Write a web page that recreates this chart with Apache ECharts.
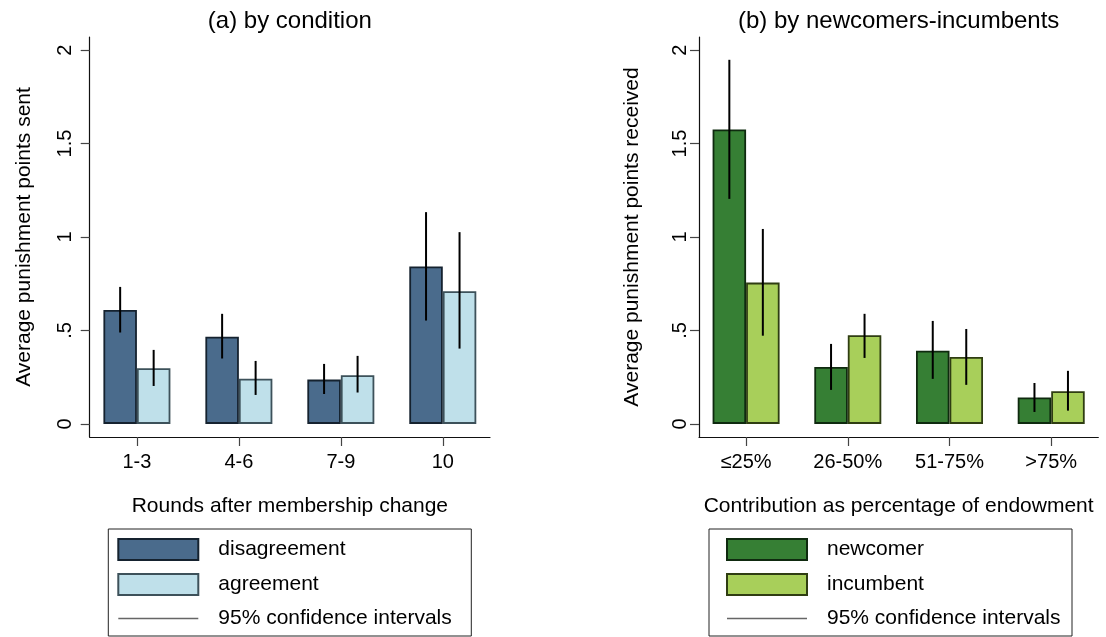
<!DOCTYPE html>
<html>
<head>
<meta charset="utf-8">
<script src="https://cdn.jsdelivr.net/npm/echarts@6/dist/echarts.min.js"></script>
<style>
  html, body { margin: 0; padding: 0; background: #ffffff; }
  #chart { width: 1106px; height: 637px; }
</style>
</head>
<body>
<div id="chart"></div>
<script>
// ---- Panel (a): punishment sent, by condition ----
const roundCategories = ['1-3', '4-6', '7-9', '10'];
const disagreement     = [0.610, 0.467, 0.237, 0.842];
const disagreementLow  = [0.489, 0.350, 0.160, 0.553];
const disagreementHigh = [0.733, 0.589, 0.321, 1.133];
const agreement        = [0.298, 0.242, 0.260, 0.710];
const agreementLow     = [0.203, 0.155, 0.168, 0.403];
const agreementHigh    = [0.396, 0.337, 0.364, 1.026];

// ---- Panel (b): punishment received, by newcomers-incumbents ----
const contributionCategories = ['≤25%', '26-50%', '51-75%', '>75%'];
const newcomer         = [1.575, 0.305, 0.392, 0.141];
const newcomerLow      = [1.204, 0.182, 0.241, 0.064];
const newcomerHigh     = [1.948, 0.428, 0.551, 0.219];
const incumbent        = [0.756, 0.474, 0.358, 0.175];
const incumbentLow     = [0.472, 0.353, 0.209, 0.071];
const incumbentHigh    = [1.043, 0.589, 0.508, 0.284];

// ---- Shared y-axis ticks ----
const yTickValues = [0, 0.5, 1, 1.5, 2];
const yTickLabels = ['0', '.5', '1', '1.5', '2'];

// ---- Style / layout constants ----
const FONT = '"Liberation Sans", Arial, Helvetica, sans-serif';
const BAR_W = 33.5;
const CAT_PAD = 0.463;          // empty space left/right of the outer groups, in category units
const Y_MIN = -0.07, Y_MAX = 2.07;
const AXIS_COLOR = '#111';
const TICK_COLOR = '#444';
const LEGEND_TOP = 529, LEGEND_W = 363, LEGEND_H = 107, LEGEND_PAD_TOP = 9;
// thin horizontal stroke inside a full 80x21 icon frame (the two moves pin the frame size)
const CI_ICON = 'path://M0 0M80 21M0 9.85H80V11.15H0Z';

const panels = [
  {
    title: '(a) by condition',
    xName: 'Rounds after membership change',
    yName: 'Average punishment points sent',
    categories: roundCategories,
    grid: { left: 89.7, top: 37, width: 400.3, height: 400 },
    yLabelMargin: 14, yNameGap: 55,
    series: [
      { name: 'disagreement', values: disagreement, low: disagreementLow, high: disagreementHigh,
        color: '#4a6b8c', border: '#15222f' },
      { name: 'agreement', values: agreement, low: agreementLow, high: agreementHigh,
        color: '#bfe0ea', border: '#3d515a' }
    ],
    legend: { left: 108.3, padLeft: 9 }
  },
  {
    title: '(b) by newcomers-incumbents',
    xName: 'Contribution as percentage of endowment',
    yName: 'Average punishment points received',
    categories: contributionCategories,
    grid: { left: 699, top: 37, width: 399.3, height: 400 },
    yLabelMargin: 9, yNameGap: 56,
    series: [
      { name: 'newcomer', values: newcomer, low: newcomerLow, high: newcomerHigh,
        color: '#367f34', border: '#0f2a0f' },
      { name: 'incumbent', values: incumbent, low: incumbentLow, high: incumbentHigh,
        color: '#a8cf5a', border: '#2f3d12' }
    ],
    legend: { left: 709, padLeft: 17 }
  }
];

const CI_NAME = '95% confidence intervals';
const textBase = { fontFamily: FONT, color: '#000' };

const grid = [], xAxis = [], yAxis = [], series = [], legend = [], graphic = [];

panels.forEach((p, pi) => {
  grid.push(p.grid);
  const catIdx = p.categories.map((_, i) => i);

  // bottom category axis (value scale so outer padding can be set freely)
  xAxis.push({
    type: 'value', gridIndex: pi,
    min: -CAT_PAD, max: p.categories.length - 1 + CAT_PAD,
    axisLine: { show: true, onZero: false, lineStyle: { color: AXIS_COLOR, width: 1.2 } },
    axisTick: { show: true, customValues: catIdx, length: 9, lineStyle: { color: TICK_COLOR, width: 1.2 } },
    axisLabel: {
      customValues: catIdx, margin: 15,
      formatter: v => p.categories[Math.round(v)],
      ...textBase, fontSize: 20
    },
    splitLine: { show: false },
    name: p.xName, nameLocation: 'middle', nameGap: 59,
    nameTextStyle: { ...textBase, fontSize: 21 }
  });

  yAxis.push({
    type: 'value', gridIndex: pi, min: Y_MIN, max: Y_MAX,
    axisLine: { show: true, onZero: false, lineStyle: { color: AXIS_COLOR, width: 1.2 } },
    axisTick: { show: true, customValues: yTickValues, length: 9, lineStyle: { color: TICK_COLOR, width: 1.2 } },
    axisLabel: {
      customValues: yTickValues, rotate: 90, margin: p.yLabelMargin,
      formatter: v => yTickLabels[yTickValues.indexOf(v)],
      ...textBase, fontSize: 20
    },
    splitLine: { show: false },
    name: p.yName, nameLocation: 'middle', nameRotate: 90, nameGap: p.yNameGap,
    nameTextStyle: { ...textBase, fontSize: 21 }
  });

  p.series.forEach(s => {
    series.push({
      type: 'bar', name: s.name, xAxisIndex: pi, yAxisIndex: pi,
      data: s.values.map((v, i) => [i, v]),
      barWidth: BAR_W, barGap: '0%',
      itemStyle: { color: s.color, borderColor: s.border, borderWidth: 1.8 },
      emphasis: { disabled: true },
      silent: true
    });
  });

  // confidence-interval whiskers, centred on each bar
  const ciData = [];
  p.series.forEach((s, si) => {
    const side = si === 0 ? -1 : 1;
    s.low.forEach((lo, i) => ciData.push([i, lo, s.high[i], side]));
  });
  series.push({
    type: 'custom', name: CI_NAME, xAxisIndex: pi, yAxisIndex: pi, z: 5,
    data: ciData,
    encode: { x: 0, y: [1, 2] },
    itemStyle: { color: '#666' },
    silent: true,
    renderItem: (params, api) => {
      const dx = api.value(3) * BAR_W / 2;
      const lo = api.coord([api.value(0), api.value(1)]);
      const hi = api.coord([api.value(0), api.value(2)]);
      return {
        type: 'line',
        shape: { x1: lo[0] + dx, y1: lo[1], x2: hi[0] + dx, y2: hi[1] },
        style: { stroke: '#000', lineWidth: 2 }
      };
    }
  });

  legend.push({
    orient: 'vertical', left: p.legend.left, top: LEGEND_TOP, height: 120,
    padding: [LEGEND_PAD_TOP, 0, 0, p.legend.padLeft],
    itemWidth: 80, itemHeight: 21, itemGap: 12,
    selectedMode: false,
    data: [
      { name: p.series[0].name, icon: 'rect' },
      { name: p.series[1].name, icon: 'rect' },
      { name: CI_NAME, icon: CI_ICON, itemStyle: { color: '#666' } }
    ],
    textStyle: { ...textBase, fontSize: 21, lineHeight: 21, padding: [0, 0, 0, 15] }
  });

  // frame around the legend
  graphic.push({
    type: 'rect', silent: true, z: -1,
    shape: { x: p.legend.left, y: LEGEND_TOP, width: LEGEND_W, height: LEGEND_H },
    style: { fill: 'none', stroke: '#222', lineWidth: 1 }
  });
});

// panel titles, carried by an invisible top axis so they centre over each plot
panels.forEach((p, pi) => {
  xAxis.push({
    type: 'value', gridIndex: pi, position: 'top', min: 0, max: 1,
    axisLine: { show: false }, axisTick: { show: false }, axisLabel: { show: false },
    splitLine: { show: false },
    name: p.title, nameLocation: 'middle', nameGap: 4,
    nameTextStyle: { ...textBase, fontSize: 24 }
  });
});

const chart = echarts.init(document.getElementById('chart'), null, { renderer: 'canvas' });
chart.setOption({
  backgroundColor: '#ffffff',
  animation: false,
  textStyle: { fontFamily: FONT },
  grid, xAxis, yAxis, series, legend, graphic
});
</script>
</body>
</html>
